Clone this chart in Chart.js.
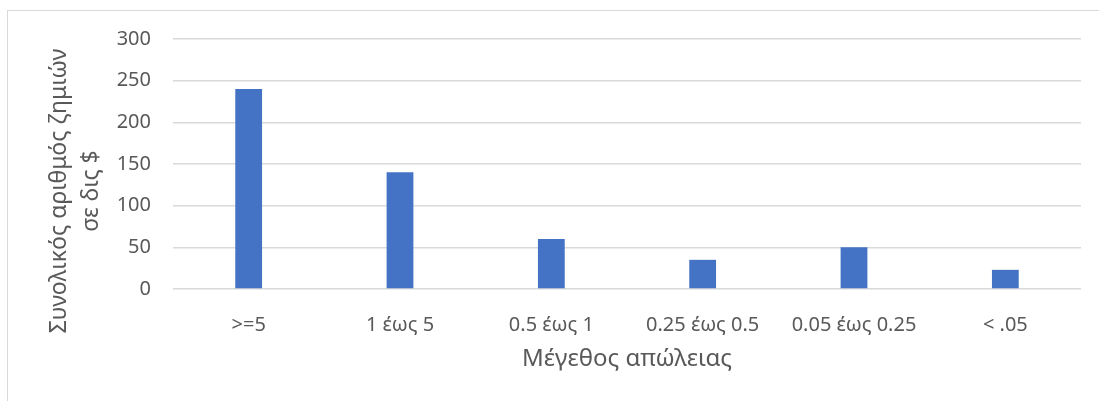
<!DOCTYPE html>
<html>
<head>
<meta charset="utf-8">
<script src="https://cdn.jsdelivr.net/npm/chart.js@4.4.1/dist/chart.umd.min.js"></script>
<style>
  html, body { margin: 0; padding: 0; background: #ffffff; overflow: hidden; }
  #frame { position: absolute; left: 7px; top: 10px; width: 1100px; height: 400px; border: 1px solid #d9d9d9; box-sizing: border-box; }
  #wrap { position: absolute; left: 0; top: 0; width: 1099px; height: 401px; }
</style>
</head>
<body>
<div id="frame"></div>
<div id="wrap"><canvas id="chart" width="1099" height="401"></canvas></div>
<script>
const categories = ['>=5', '1 έως 5', '0.5 έως 1', '0.25 έως 0.5', '0.05 έως 0.25', '< .05'];
const lossValues = [240, 140, 60, 35, 50, 23];
const yTicks = [0, 50, 100, 150, 200, 250, 300];
const xTitle = 'Μέγεθος απώλειας';
const yTitleLines = ['Συνολικός αριθμός ζημιών', 'σε δις $'];

const FONT = "'Noto Sans', 'Open Sans', sans-serif";
const TEXT = '#595959';

// Two-line rotated y-axis title, centred in the left margin
const yTitlePlugin = {
  id: 'yTitle',
  afterDraw(chart) {
    const ctx = chart.ctx;
    ctx.save();
    ctx.fillStyle = TEXT;
    ctx.font = '23px ' + FONT;
    ctx.textAlign = 'center';
    ctx.textBaseline = 'middle';
    const cy = 191;
    const xs = [59, 91];
    yTitleLines.forEach((line, i) => {
      ctx.save();
      ctx.translate(xs[i], cy);
      ctx.rotate(-Math.PI / 2);
      ctx.fillText(line, 0, 0);
      ctx.restore();
    });
    ctx.restore();
  }
};

new Chart(document.getElementById('chart'), {
  type: 'bar',
  data: {
    labels: categories,
    datasets: [{
      data: lossValues,
      backgroundColor: '#4472C4',
      borderWidth: 0,
      categoryPercentage: 1,
      barPercentage: 0.177
    }]
  },
  options: {
    responsive: false,
    animation: false,
    layout: { padding: { top: 39, left: 0, right: 18, bottom: 0 } },
    plugins: { legend: { display: false }, tooltip: { enabled: false } },
    scales: {
      x: {
        grid: { display: false },
        border: { display: false },
        ticks: { color: TEXT, font: { family: FONT, size: 20 }, padding: 16, maxRotation: 0, autoSkip: false },
        title: { display: true, text: xTitle, color: TEXT, font: { family: FONT, size: 24 }, padding: { top: 0, bottom: 27 } },
        afterFit(scale) { scale.height = 112; }
      },
      y: {
        min: 0,
        max: 300,
        afterBuildTicks(scale) { scale.ticks = yTicks.map(v => ({ value: v })); },
        grid: { color: '#d9d9d9', lineWidth: 1.5, drawTicks: false },
        border: { display: false },
        ticks: { color: TEXT, font: { family: FONT, size: 20 }, padding: 22 },
        afterFit(scale) { scale.width = 173; }
      }
    }
  },
  plugins: [yTitlePlugin]
});
</script>
</body>
</html>
